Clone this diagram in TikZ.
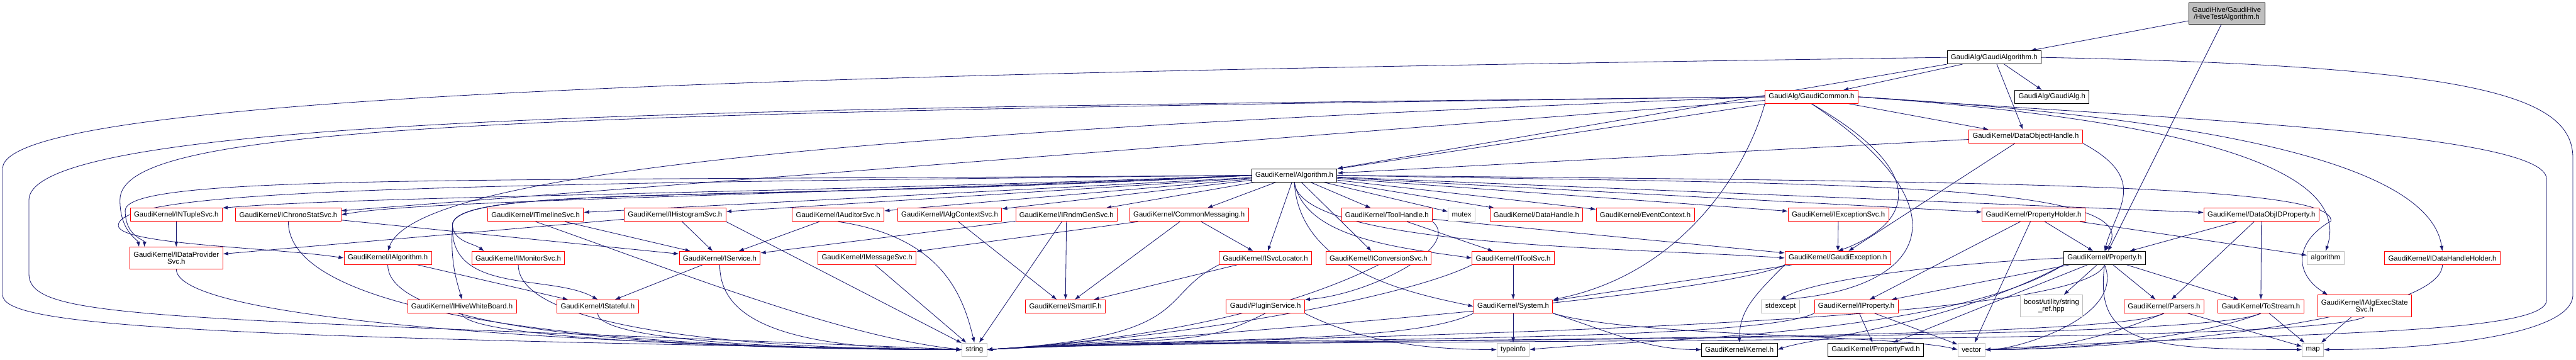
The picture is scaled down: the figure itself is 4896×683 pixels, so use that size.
\documentclass[tikz,border=0pt]{standalone}
\usepackage{fontspec}
\setmainfont{Liberation Sans}
\usetikzlibrary{arrows.meta}
\definecolor{edgeblue}{HTML}{191970}
\definecolor{extgray}{HTML}{BFBFBF}
\pgfdeclarelayer{edges}
\pgfsetlayers{edges,main}
\tikzset{
  incfile/.style={draw,fill=white,line width=.5pt,minimum height=12.5pt,inner xsep=3.5pt,inner ysep=.5pt,align=center,font=\fontsize{6.8}{6.7}\selectfont},
  partfile/.style={incfile,draw=red},
  fullfile/.style={incfile,draw=black},
  extfile/.style={incfile,draw=extgray},
  rootfile/.style={incfile,draw=black,fill=extgray},
  twoline/.style={minimum height=20.5pt},
  dep/.style={->,draw=edgeblue,line width=.5pt}
}
\begin{document}
\begin{tikzpicture}[x=.5pt,y={(0pt,-.5pt)},>={Latex[length=5pt,width=3.6pt]}]
  \useasboundingbox (0,0) rectangle (4896,683);

  \node[rootfile,twoline] (hive) at (4232,26) {GaudiHive/GaudiHive\\/HiveTestAlgorithm.h};
  \node[fullfile] (galgo) at (3790,109) {GaudiAlg/GaudiAlgorithm.h};
  \node[partfile] (gcommon) at (3443,184) {GaudiAlg/GaudiCommon.h};
  \node[fullfile] (galg) at (3900,184) {GaudiAlg/GaudiAlg.h};
  \node[partfile] (dohandle) at (3850,259) {GaudiKernel/DataObjectHandle.h};
  \node[fullfile] (algorithm) at (2460,333) {GaudiKernel/Algorithm.h};

  \node[partfile] (ntuple) at (335,408) {GaudiKernel/INTupleSvc.h};
  \node[partfile] (chrono) at (548,408) {GaudiKernel/IChronoStatSvc.h};
  \node[partfile] (timeline) at (1018,408) {GaudiKernel/ITimelineSvc.h};
  \node[partfile] (histo) at (1283,408) {GaudiKernel/IHistogramSvc.h};
  \node[partfile] (auditor) at (1593,408) {GaudiKernel/IAuditorSvc.h};
  \node[partfile] (algctx) at (1805,408) {GaudiKernel/IAlgContextSvc.h};
  \node[partfile] (rndm) at (2027,408) {GaudiKernel/IRndmGenSvc.h};
  \node[partfile] (commsg) at (2260,408) {GaudiKernel/CommonMessaging.h};
  \node[partfile] (toolhandle) at (2636,408) {GaudiKernel/ToolHandle.h};
  \node[extfile] (mutex) at (2778,408) {mutex};
  \node[partfile] (datahandle) at (2920,408) {GaudiKernel/DataHandle.h};
  \node[partfile] (evtctx) at (3127,408) {GaudiKernel/EventContext.h};
  \node[partfile] (excsvc) at (3494,408) {GaudiKernel/IExceptionSvc.h};
  \node[partfile] (propholder) at (3865,408) {GaudiKernel/PropertyHolder.h};
  \node[partfile] (dataobjid) at (4298,408) {GaudiKernel/DataObjIDProperty.h};

  \node[partfile,twoline] (dataprov) at (335,490) {GaudiKernel/IDataProvider\\Svc.h};
  \node[partfile] (ialgo) at (737,490) {GaudiKernel/IAlgorithm.h};
  \node[partfile] (monitor) at (985,490) {GaudiKernel/IMonitorSvc.h};
  \node[partfile] (iservice) at (1368,490) {GaudiKernel/IService.h};
  \node[partfile] (msgsvc) at (1648,490) {GaudiKernel/IMessageSvc.h};
  \node[partfile] (svcloc) at (2405,490) {GaudiKernel/ISvcLocator.h};
  \node[partfile] (convsvc) at (2620,490) {GaudiKernel/IConversionSvc.h};
  \node[partfile] (toolsvc) at (2876,490) {GaudiKernel/IToolSvc.h};
  \node[partfile] (gexcept) at (3493,490) {GaudiKernel/GaudiException.h};
  \node[fullfile] (property) at (4000,490) {GaudiKernel/Property.h};
  \node[extfile] (algorithmstd) at (4420,490) {algorithm};
  \node[partfile] (dhholder) at (4642,490) {GaudiKernel/IDataHandleHolder.h};

  \node[partfile] (whiteboard) at (878,582) {GaudiKernel/IHiveWhiteBoard.h};
  \node[partfile] (stateful) at (1136,582) {GaudiKernel/IStateful.h};
  \node[partfile] (smartif) at (2025,582) {GaudiKernel/SmartIF.h};
  \node[partfile] (plugin) at (2405,582) {Gaudi/PluginService.h};
  \node[partfile] (system) at (2876,582) {GaudiKernel/System.h};
  \node[extfile] (stdexcept) at (3384,582) {stdexcept};
  \node[partfile] (iproperty) at (3528,582) {GaudiKernel/IProperty.h};
  \node[extfile,twoline] (stringref) at (3899,581) {boost/utility/string\\\_ref.hpp};
  \node[partfile] (parsers) at (4113,582) {GaudiKernel/Parsers.h};
  \node[partfile] (tostream) at (4297,582) {GaudiKernel/ToStream.h};
  \node[partfile,twoline] (execstate) at (4494,581) {GaudiKernel/IAlgExecState\\Svc.h};

  \node[extfile] (string) at (1852,664) {string};
  \node[extfile] (typeinfo) at (2876,664) {typeinfo};
  \node[fullfile] (kernel) at (3306,664) {GaudiKernel/Kernel.h};
  \node[fullfile] (propfwd) at (3565,664) {GaudiKernel/PropertyFwd.h};
  \node[extfile] (vector) at (3747,664) {vector};
  \node[extfile] (map) at (4396,664) {map};

  \begin{pgfonlayer}{edges}
    \draw[dep] (hive) -- (galgo);
    \draw[dep] (hive) -- (property);
    \foreach \t in {gcommon,galg,dohandle}
      \draw[dep] (galgo) -- (\t);
    \draw[dep] (galgo.south west) -- (algorithm.north east);
    \draw[dep] (galgo.west) .. controls (1500,140) and (5,180) .. (5,320) -- (5,560) .. controls (5,615) and (300,640) .. (string.west);
    \draw[dep] (galgo.east) .. controls (4700,125) and (4890,180) .. (4890,300) -- (4890,560) .. controls (4890,640) and (4600,664) .. (map.east);

    \foreach \t in {dohandle,algorithm,chrono}
      \draw[dep] (gcommon) -- (\t);
    \draw[dep] (gcommon.south west) .. controls (3320,320) and (3200,520) .. (system.north east);
    \draw[dep] (gcommon.south) .. controls +(260,150) and +(110,-40) .. (gexcept.north);
    \draw[dep] (gcommon.south) .. controls +(300,200) and +(280,-20) .. (stdexcept.north);
    \draw[dep] (gcommon.west) .. controls (1500,205) and (55,215) .. (55,380) -- (55,520) .. controls (55,610) and (300,600) .. (string.west);
    \draw[dep] (gcommon.west) .. controls (900,215) and (228,240) .. (228,380) .. controls (228,440) and (262,455) .. ([xshift=9pt]dataprov.north west);
    \draw[dep] (gcommon.west) .. controls (1600,250) and (790,330) .. (ialgo.north);
    \draw[dep] (gcommon.east) .. controls (4200,230) and (4470,330) .. (algorithmstd.north);
    \draw[dep] (gcommon.east) .. controls (4300,230) and (4620,330) .. (dhholder.north);
    \draw[dep] (gcommon.east) .. controls (4100,225) and (4840,250) .. (4840,340) -- (4840,570) .. controls (4840,640) and (4300,630) .. (vector.east);

    \draw[dep] (dohandle) -- (algorithm);
    \draw[dep] (dohandle) -- (gexcept);
    \draw[dep] (dohandle.south east) .. controls +(130,70) and +(20,-80) .. (property.north);

    \foreach \t in {timeline,histo,auditor,algctx,rndm,commsg,toolhandle,mutex,datahandle,evtctx,excsvc,propholder,dataobjid,svcloc,convsvc}
      \draw[dep] (algorithm) -- (\t);
    \draw[dep] (algorithm.west) .. controls (1400,370) and (700,372) .. (ntuple.north east);
    \draw[dep] (algorithm.west) .. controls (1400,375) and (800,380) .. (chrono.east);
    \draw[dep] (algorithm.west) .. controls (900,345) and (238,330) .. (238,400) .. controls (238,450) and (275,455) .. ([xshift=14pt]dataprov.north west);
    \draw[dep] (algorithm.west) .. controls (800,350) and (215,360) .. (225,430) .. controls (235,465) and (520,470) .. (ialgo.west);
    \draw[dep] (algorithm.west) .. controls (1400,385) and (850,350) .. (860,430) .. controls (865,460) and (900,462) .. ([xshift=12pt]monitor.north west);
    \draw[dep] (algorithm.west) .. controls (1400,385) and (850,350) .. (860,430) .. controls (855,500) and (870,540) .. (whiteboard.north);
    \draw[dep] (algorithm.west) .. controls (1400,385) and (850,350) .. (860,430) .. controls (855,560) and (1050,520) .. (stateful.north);
    \draw[dep] (algorithm.south) .. controls (2480,450) and (2650,470) .. (toolsvc.west);
    \draw[dep] (algorithm.south) .. controls (2470,520) and (2700,560) .. (system.west);
    \draw[dep] (algorithm.south) .. controls (2470,470) and (3100,470) .. (gexcept.west);
    \draw[dep] (algorithm.east) .. controls (3400,350) and (4100,340) .. (property.north);
    \draw[dep] (algorithm.east) .. controls (3800,345) and (4440,350) .. (4430,420) .. controls (4360,460) and (4360,520) .. ([xshift=10pt]execstate.north west);

    \draw[dep] (ntuple) -- (dataprov);
    \foreach \s in {chrono,timeline,histo,auditor,rndm}
      \draw[dep] (\s) -- (iservice);
    \draw[dep] (histo) -- (dataprov);
    \foreach \t in {smartif,svcloc,msgsvc}
      \draw[dep] (commsg) -- (\t);
    \draw[dep] (algctx) -- (smartif);
    \draw[dep] (rndm) -- (smartif);
    \draw[dep] (toolhandle) -- (toolsvc);
    \draw[dep] (toolhandle) -- (gexcept);
    \draw[dep] (toolhandle.south east) .. controls (2780,470) and (2600,560) .. (plugin.north east);
    \draw[dep] (excsvc) -- (gexcept);
    \foreach \t in {property,iproperty,vector,algorithmstd}
      \draw[dep] (propholder) -- (\t);
    \foreach \t in {property,parsers,tostream}
      \draw[dep] (dataobjid) -- (\t);

    \draw[dep] (ialgo) -- (stateful);
    \draw[dep] (iservice) -- (stateful);
    \draw[dep] (svcloc) -- (smartif);
    \draw[dep] (toolsvc) -- (system);
    \draw[dep] (gexcept) -- (system);
    \foreach \t in {iproperty,stringref,parsers,tostream,propfwd}
      \draw[dep] (property) -- (\t);
    \draw[dep] (property.west) .. controls (3700,500) and (3450,530) .. (stdexcept.north);
    \draw[dep] (iproperty) -- (propfwd);

    \foreach \s/\d in {dataprov/120,ialgo/150,monitor/130,iservice/100,whiteboard/50,stateful/50}
      \draw[dep] (\s.south) .. controls +(0,\d) and +(-350,0) .. (string.west);
    \draw[dep] (chrono.south) .. controls +(0,220) and +(-400,0) .. (string.west);
    \draw[dep] (timeline.south) .. controls (1300,520) and (1600,640) .. (string.west);
    \draw[dep] (histo.south east) -- (string);
    \draw[dep] (auditor.south) .. controls (1790,450) and (1830,560) .. (string.north);
    \draw[dep] (msgsvc) -- (string);
    \draw[dep] (rndm) -- (string);
    \foreach \s in {svcloc.south west,convsvc.south,toolsvc.south west,plugin.south,system.south west,gexcept.south west,iproperty.south west,parsers.south,tostream.south,execstate.south}
      \draw[dep] (\s) .. controls +(-120,60) and +(400,-25) .. (string.east);
    \draw[dep] (property.south) .. controls +(-50,130) and +(400,-25) .. (string.east);

    \draw[dep] (parsers.south) .. controls +(-100,40) and +(150,0) .. (vector.east);
    \draw[dep] (tostream.south) .. controls +(-100,40) and +(200,0) .. (vector.east);
    \draw[dep] (dhholder.south) .. controls +(0,100) and +(300,0) .. (vector.east);
    \draw[dep] (property.south) .. controls +(40,100) and +(60,0) .. (vector.east);
    \draw[dep] (iproperty) -- (vector);
    \draw[dep] (system.south east) .. controls (3100,640) and (3600,635) .. (vector.west);

    \foreach \s in {parsers,tostream,execstate}
      \draw[dep] (\s) -- (map);
    \draw[dep] (property.south) .. controls +(-20,150) and +(-300,0) .. (map.west);

    \draw[dep] (system) -- (typeinfo);
    \draw[dep] (plugin.south east) .. controls +(100,50) and +(-150,0) .. (typeinfo.west);
    \draw[dep] (property.south west) .. controls (3700,640) and (3100,645) .. (typeinfo.east);
    \draw[dep] (system.south east) .. controls +(120,40) and +(-100,0) .. (kernel.west);
    \draw[dep] (gexcept.south west) .. controls +(-60,60) and +(0,-60) .. (kernel.north);
    \draw[dep] (property.south west) .. controls (3700,620) and (3450,640) .. (kernel.east);
  \end{pgfonlayer}
\end{tikzpicture}
\end{document}
